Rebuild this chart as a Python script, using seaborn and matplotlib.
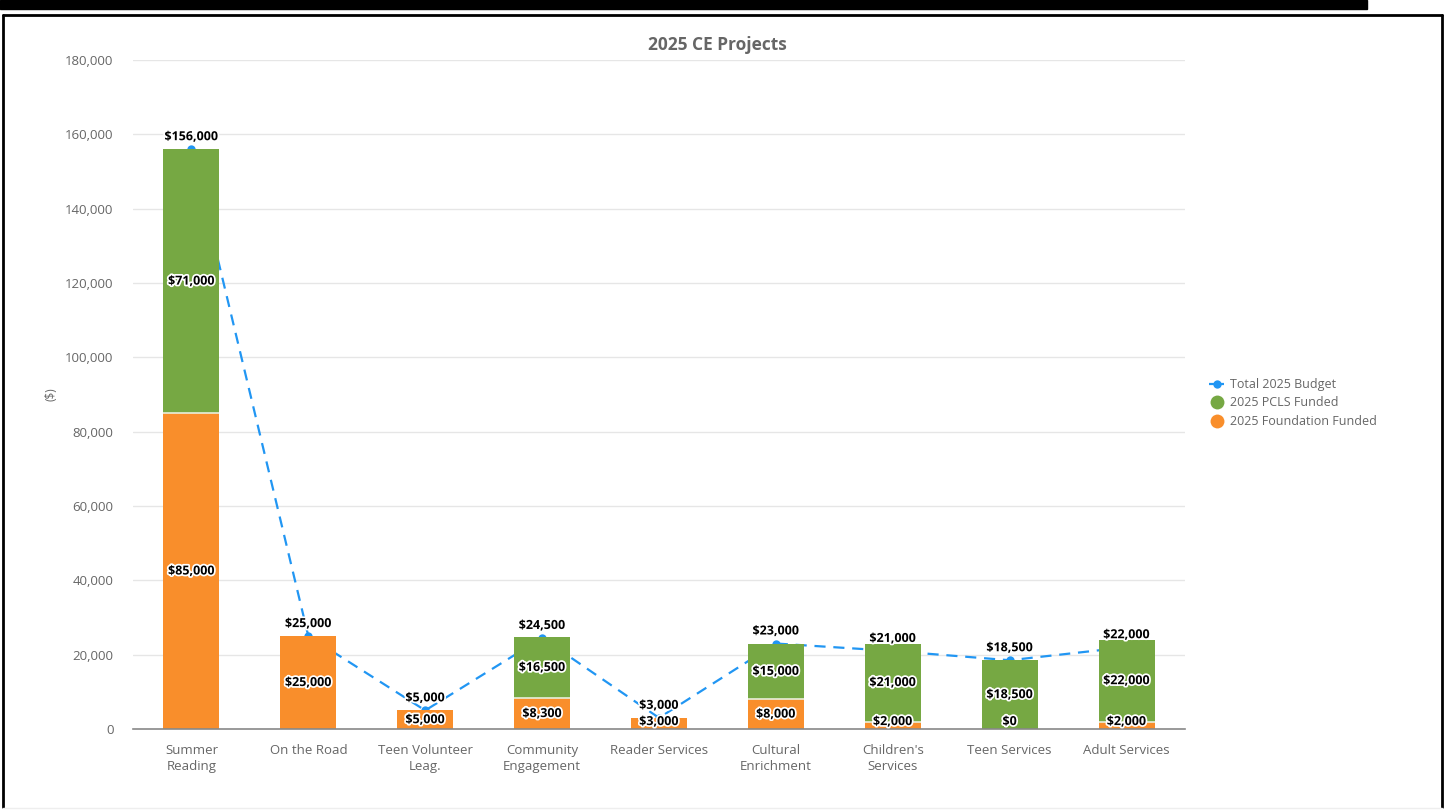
import numpy as np
import pandas as pd
import matplotlib
matplotlib.use("Agg")
import matplotlib.pyplot as plt
import matplotlib.patheffects as pe
from matplotlib.lines import Line2D
from matplotlib.patches import Rectangle
import seaborn as sns

# ---- data ----
categories = ["Summer\nReading", "On the Road", "Teen Volunteer\nLeag.",
              "Community\nEngagement", "Reader Services", "Cultural\nEnrichment",
              "Children's\nServices", "Teen Services", "Adult Services"]
foundation_funded = [85000, 25000, 5000, 8300, 3000, 8000, 2000, 0, 2000]
pcls_funded = [71000, 0, 0, 16500, 0, 15000, 21000, 18500, 22000]
total_budget = [156000, 25000, 5000, 24500, 3000, 23000, 21000, 18500, 22000]
y_ticks = [0, 20000, 40000, 60000, 80000, 100000, 120000, 140000, 160000, 180000]

GREEN = "#76a843"
ORANGE = "#f98e2b"
BLUE = "#2196f3"
GRAY_TXT = "#666666"

sns.set_theme(style="white")
plt.rcParams["font.family"] = ["Open Sans", "DejaVu Sans"]

df = pd.DataFrame({
    "category": categories,
    "foundation": foundation_funded,
    "pcls": pcls_funded,
    "total": total_budget,
})
df["stack_top"] = df["foundation"] + df["pcls"]
xpos = np.arange(len(df))

fig = plt.figure(figsize=(14.44, 8.10), dpi=100)
ax = fig.add_axes([133 / 1444, 1 - 729 / 810, (1185 - 133) / 1444, (729 - 60) / 810])

# dashed budget line sits behind the bars
sns.lineplot(x=xpos, y=df["total"], ax=ax, color=BLUE, linewidth=1.6,
             linestyle=(0, (5, 3.5)), marker="o", markersize=6,
             markeredgewidth=0, zorder=1, legend=False)

# stacked bars: full stack in green, foundation part drawn over it in orange
sns.barplot(data=df, x="category", y="stack_top", ax=ax, color=GREEN,
            width=0.48, saturation=1, zorder=2, edgecolor="none")
sns.barplot(data=df, x="category", y="foundation", ax=ax, color=ORANGE,
            width=0.48, saturation=1, zorder=3, edgecolor="none")

# thin light seam between the two segments
for i, (f, p) in enumerate(zip(df["foundation"], df["pcls"])):
    if f > 0 and p > 0:
        ax.hlines(f, i - 0.24, i + 0.24, color="#e8f0dc", linewidth=1.2, zorder=4)

ax.set_xlim(-0.5, len(df) - 0.5)
ax.set_ylim(0, 180000)
ax.set_yticks(y_ticks)
ax.set_yticklabels([f"{v:,}" for v in y_ticks])
ax.yaxis.grid(True, color="#e6e6e6", linewidth=1)
ax.set_axisbelow(True)
for s in ["top", "right", "left"]:
    ax.spines[s].set_visible(False)
ax.spines["bottom"].set_color("#888888")
ax.spines["bottom"].set_linewidth(1.2)
ax.spines["bottom"].set_zorder(5)
ax.tick_params(axis="y", length=0, pad=14, labelsize=9.5, labelcolor=GRAY_TXT)
ax.tick_params(axis="x", length=0, pad=11, labelsize=9.5, labelcolor=GRAY_TXT)
for t in ax.get_xticklabels():
    t.set_linespacing(1.3)
ax.set_xlabel("")
ax.set_ylabel("($)", color=GRAY_TXT, fontsize=8.5)
ax.yaxis.set_label_coords((57 - 133) / 1052, 0.5)

halo = [pe.withStroke(linewidth=2.5, foreground="white")]
label_kw = dict(ha="center", va="center", fontsize=9, fontweight="bold",
                color="black", path_effects=halo, zorder=6)

# segment value labels
min_pos = 2000
for i, (f, p) in enumerate(zip(df["foundation"], df["pcls"])):
    ax.text(i, max(f / 2, min_pos), f"${f:,}", **label_kw)
    if p > 0 or f == 0:
        ax.text(i, max(f + p / 2, min_pos), f"${p:,}", **label_kw)

# total budget labels above the line points
for i, t in enumerate(df["total"]):
    ax.annotate(f"${t:,}", (i, t), xytext=(0, 9), textcoords="offset points",
                **label_kw)

fig.text(0.497, 1 - 45 / 810, "2025 CE Projects", ha="center", va="center",
         fontsize=12.5, fontweight="bold", color=GRAY_TXT)

handles = [
    Line2D([0], [0], color=BLUE, linestyle=(0, (3, 2)), linewidth=1.6,
           marker="o", markersize=6, markeredgewidth=0),
    Line2D([0], [0], color=GREEN, linestyle="none", marker="o", markersize=10,
           markeredgewidth=0),
    Line2D([0], [0], color=ORANGE, linestyle="none", marker="o", markersize=10,
           markeredgewidth=0),
]
fig.legend(handles, ["Total 2025 Budget", "2025 PCLS Funded", "2025 Foundation Funded"],
           loc="center left", bbox_to_anchor=(1198 / 1444, 1 - 403 / 810),
           frameon=False, fontsize=9, labelcolor=GRAY_TXT, handlelength=1.2,
           handletextpad=0.5, labelspacing=0.45)

# page frame
fig.patches.append(Rectangle((0, 1 - 9 / 810), 1367 / 1444, 9 / 810,
                             transform=fig.transFigure, color="black", zorder=10))
frame_kw = dict(transform=fig.transFigure, color="black", linewidth=2, zorder=10)
fig.add_artist(Line2D([3 / 1444, 3 / 1444], [1 - 15 / 810, 1 - 807 / 810], **frame_kw))
fig.add_artist(Line2D([3 / 1444, 1442 / 1444], [1 - 15 / 810, 1 - 15 / 810], **frame_kw))
fig.add_artist(Line2D([1442 / 1444, 1442 / 1444], [1 - 15 / 810, 1 - 807 / 810], **frame_kw))
fig.add_artist(Line2D([3 / 1444, 1442 / 1444], [1 - 808 / 810, 1 - 808 / 810],
                      transform=fig.transFigure, color="#eeeeee", linewidth=1, zorder=10))

fig.savefig("out.png", dpi=100, facecolor="white")
